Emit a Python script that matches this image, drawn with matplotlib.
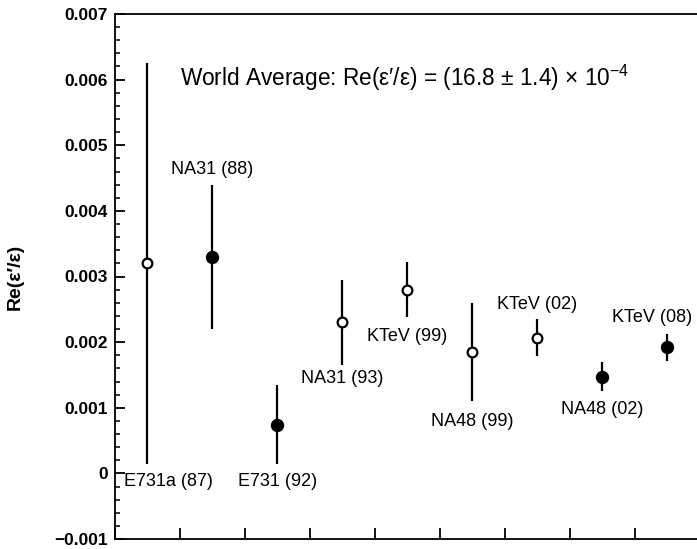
import matplotlib
matplotlib.use("Agg")
import matplotlib.pyplot as plt
from matplotlib.ticker import MultipleLocator

plt.rcParams["font.family"] = ["Liberation Sans", "DejaVu Sans"]
plt.rcParams["mathtext.fontset"] = "custom"
plt.rcParams["mathtext.rm"] = "Liberation Sans"
plt.rcParams["mathtext.it"] = "Liberation Sans"

# --- data --- #
experiments = ["E731a (87)", "NA31 (88)", "E731 (92)", "NA31 (93)", "KTeV (99)",
               "NA48 (99)", "KTeV (02)", "NA48 (02)", "KTeV (08)"]
x_pos = [0.5, 1.5, 2.5, 3.5, 4.5, 5.5, 6.5, 7.5, 8.5]
values = [0.0032, 0.0033, 0.00074, 0.0023, 0.0028, 0.00185, 0.00207, 0.00147, 0.00192]
errors = [0.00305, 0.0011, 0.0006, 0.00065, 0.00042, 0.00074, 0.00028, 0.00022, 0.00021]
filled = [False, True, True, False, False, False, False, True, True]

# label placement (data units)
label_x = [0.815, 1.5, 2.5, 3.5, 4.5, 5.5, 6.5, 7.5, 8.27]
label_y = [-0.00012, 0.00463, -0.00012, 0.00145, 0.00208, 0.00079, 0.00258, 0.00097, 0.00237]

fig = plt.figure(figsize=(6.97, 5.49), dpi=100)
ax = fig.add_axes([115 / 697, 10 / 549, 582 / 697, 525 / 549])

for xi, v, e, f in zip(x_pos, values, errors, filled):
    ax.errorbar(xi, v, yerr=e, fmt="o", color="black", ecolor="black",
                elinewidth=1.6, capsize=0,
                markersize=8 if f else 7,
                markerfacecolor="black" if f else "white",
                markeredgecolor="black", markeredgewidth=1.6, zorder=3)

for name, lx, ly in zip(experiments, label_x, label_y):
    ax.text(lx, ly, name, ha="center", va="center", fontsize=13)

ax.text(4.46, 0.00602,
        "World Average: Re(\u03b5\u2032/\u03b5) = (16.8 \u00b1 1.4) \u00d7 10$^{-4}$",
        ha="center", va="center", fontsize=16.3)

ax.set_xlim(0, 8.954)
ax.set_ylim(-0.001, 0.007)

ax.xaxis.set_major_locator(MultipleLocator(1))
ax.yaxis.set_major_locator(MultipleLocator(0.001))
ax.yaxis.set_minor_locator(MultipleLocator(0.0002))
ax.tick_params(axis="x", direction="in", length=8, width=1.3, labelbottom=False)
ax.tick_params(axis="y", which="major", direction="in", length=7, width=1.3,
               labelsize=12.5, pad=5)
ax.tick_params(axis="y", which="minor", direction="in", length=3.5, width=1.1)

ax.yaxis.set_major_formatter(plt.FuncFormatter(
    lambda v, p: "0" if abs(v) < 1e-9 else ("\u22120.001" if v < 0 else f"{v:.3f}")))
for lab in ax.get_yticklabels():
    lab.set_fontweight("bold")

for side in ["left", "bottom", "top"]:
    ax.spines[side].set_linewidth(1.3)
ax.spines["right"].set_visible(False)

ax.set_ylabel("Re(\u03b5\u2032/\u03b5)", fontsize=14, fontweight="bold", labelpad=22)

fig.savefig("out.png", dpi=100)
